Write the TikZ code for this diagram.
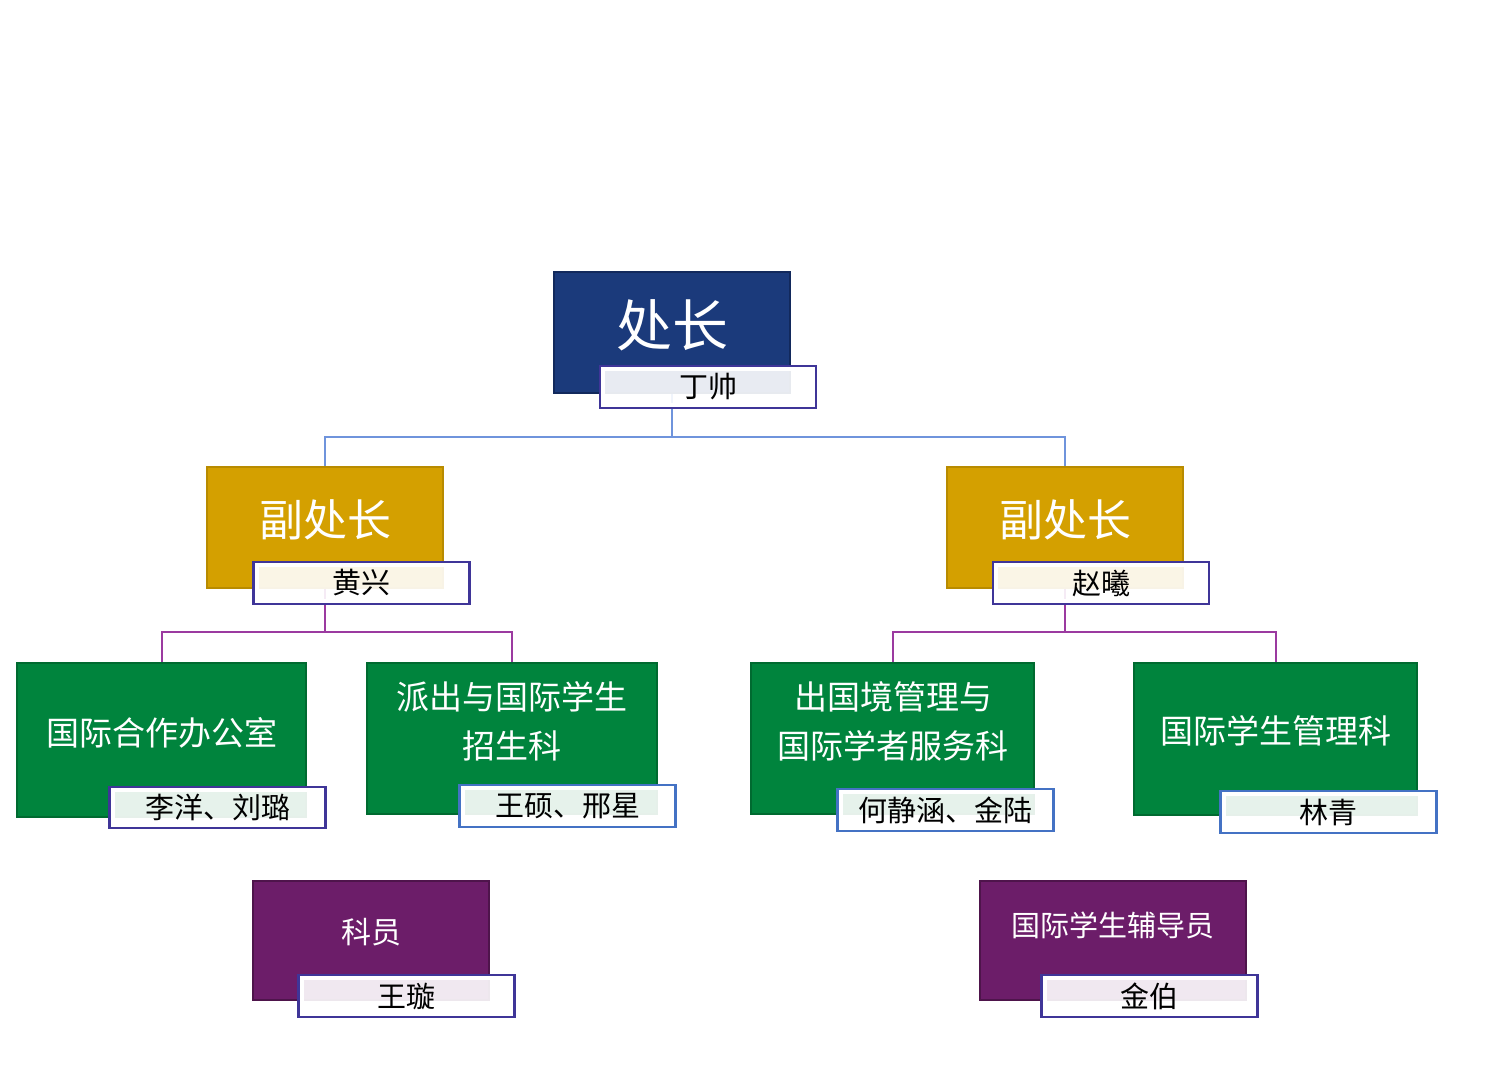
\documentclass[tikz,border=0pt]{standalone}
\usepackage{fontspec}
\setmainfont{Noto Sans CJK SC}
\usetikzlibrary{calc}
\definecolor{cBlue}{HTML}{1B3A7B}
\definecolor{cBlueD}{HTML}{12295C}
\definecolor{cGold}{HTML}{D4A000}
\definecolor{cGoldD}{HTML}{B88B00}
\definecolor{cGreen}{HTML}{00843D}
\definecolor{cGreenD}{HTML}{006A30}
\definecolor{cPurp}{HTML}{6C1D69}
\definecolor{cPurpD}{HTML}{4E144B}
\definecolor{cNameP}{HTML}{3F3598}
\definecolor{cNameB}{HTML}{4472C4}
\definecolor{cLineB}{HTML}{6F94DC}
\definecolor{cLineP}{HTML}{9B3AA0}
\tikzset{
  mainbox/.style={rectangle, line width=1.5pt, inner sep=0pt},
  bluebox/.style={mainbox, fill=cBlue, draw=cBlueD},
  goldbox/.style={mainbox, fill=cGold, draw=cGoldD},
  greenbox/.style={mainbox, fill=cGreen, draw=cGreenD},
  purpbox/.style={mainbox, fill=cPurp, draw=cPurpD},
  mlbl/.style={text=white, inner sep=0pt, align=center},
  namebox/.style={rectangle, minimum width=216pt, minimum height=42pt, inner sep=0pt,
    line width=2.5pt, fill=white, fill opacity=0.9, text opacity=1, draw opacity=1,
    text=black, font=\fontsize{29}{32}\selectfont},
  nameP/.style={namebox, draw=cNameP},
  nameB/.style={namebox, draw=cNameB},
  ring/.style={white, line width=4pt},
  lineB/.style={cLineB, line width=2pt},
  lineP/.style={cLineP, line width=2pt},
}
\newcommand{\myring}[1]{\draw[ring] ($(#1.north west)+(4.5,4.5)$) rectangle ($(#1.south east)+(-4.5,-4.5)$);}
\begin{document}
\begin{tikzpicture}[x=1pt,y=-1pt]
\useasboundingbox (0,0) rectangle (1488,1090);
% main boxes
\node[bluebox, minimum width=236pt, minimum height=121pt] (boss) at (672,332.5) {};
\node[goldbox, minimum width=236pt, minimum height=121pt] (vp1) at (325,527.5) {};
\node[goldbox, minimum width=236pt, minimum height=121pt] (vp2) at (1065,527.5) {};
\node[greenbox, minimum width=289pt, minimum height=154pt] (g1) at (161.5,740) {};
\node[greenbox, minimum width=290pt, minimum height=151pt] (g2) at (512,738.5) {};
\node[greenbox, minimum width=283pt, minimum height=151pt] (g3) at (892.5,738.5) {};
\node[greenbox, minimum width=283pt, minimum height=152pt] (g4) at (1275.5,739) {};
\node[purpbox, minimum width=236pt, minimum height=119pt] (p1) at (371,940.5) {};
\node[purpbox, minimum width=266pt, minimum height=119pt] (p2) at (1113,940.5) {};
% main labels
\node[mlbl, font=\fontsize{56}{60}\selectfont] (tboss) at (672,325) {处长};
\node[mlbl, font=\fontsize{44}{48}\selectfont] (tvp1) at (325,520) {副处长};
\node[mlbl, font=\fontsize{44}{48}\selectfont] (tvp2) at (1065,520) {副处长};
\node[mlbl, font=\fontsize{33}{49}\selectfont] (tg1) at (162,733) {国际合作办公室};
\node[mlbl, font=\fontsize{33}{49}\selectfont] (tg2) at (512,721.5) {派出与国际学生\\招生科};
\node[mlbl, font=\fontsize{33}{49}\selectfont] (tg3) at (893,721.5) {出国境管理与\\国际学者服务科};
\node[mlbl, font=\fontsize{33}{49}\selectfont] (tg4) at (1276,731) {国际学生管理科};
\node[mlbl, font=\fontsize{30}{34}\selectfont] (tp1) at (371,932) {科员};
\node[mlbl, font=\fontsize{29}{34}\selectfont] (tp2) at (1113,925) {国际学生辅导员};
% connectors
\coordinate (j0) at (672,437);
\coordinate (j1) at (325,632);
\coordinate (j2) at (1065,632);
\draw[lineB] (boss.south) -- (j0) -| (vp1.north);
\draw[lineB] (j0) -| (vp2.north);
\draw[lineP] (vp1.south) -- (j1) -| (g1.north);
\draw[lineP] (j1) -| (g2.north);
\draw[lineP] (vp2.south) -- (j2) -| (g3.north);
\draw[lineP] (j2) -| (g4.north);
% name boxes
\node[nameP] (n0) at (708,387) {丁帅};
\node[nameP] (n1) at (361.5,583) {黄兴};
\node[nameP] (n2) at (1101,583) {赵曦};
\node[nameP, minimum height=41pt] (n3) at (217.5,807.5) {李洋、刘璐};
\node[nameB] (n4) at (567.5,806) {王硕、邢星};
\node[nameB] (n5) at (945.5,810) {何静涵、金陆};
\node[nameB] (n6) at (1328.5,812) {林青};
\node[nameP] (n7) at (406.5,996) {王璇};
\node[nameP] (n8) at (1149.5,996) {金伯};
\myring{n0}\myring{n1}\myring{n2}\myring{n3}\myring{n4}\myring{n5}\myring{n6}\myring{n7}\myring{n8}
\end{tikzpicture}
\end{document}
